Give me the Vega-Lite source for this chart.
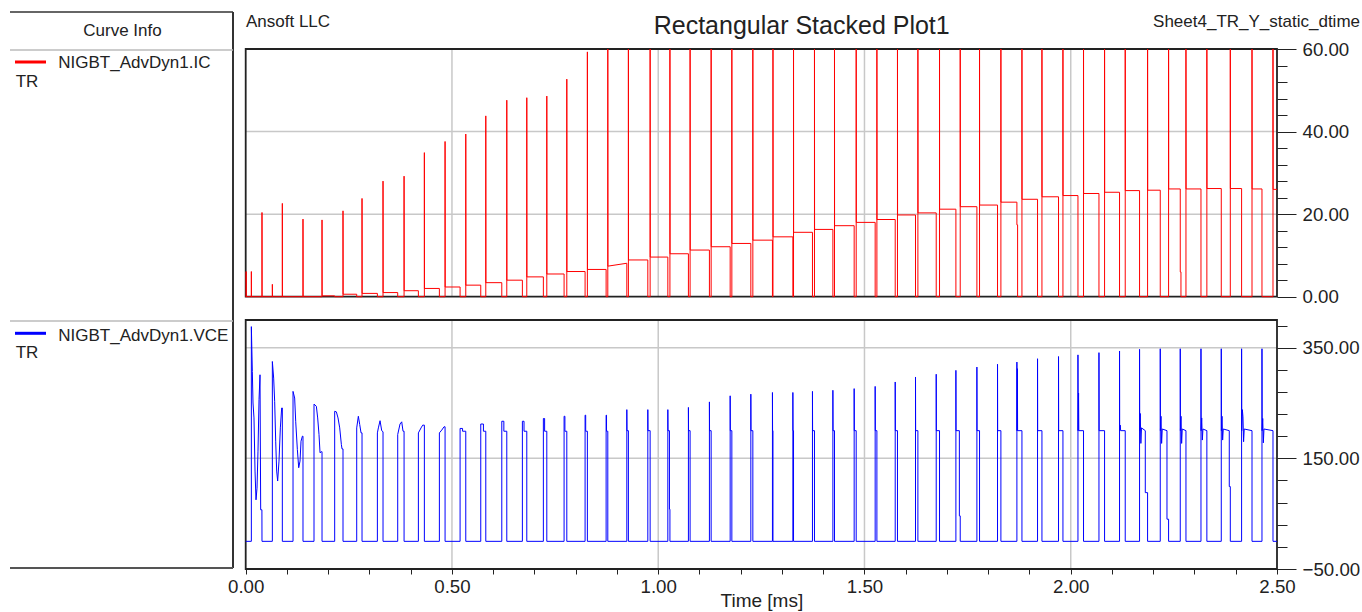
{
  "$schema": "https://vega.github.io/schema/vega-lite/v6.json",
  "width": 1267,
  "height": 557,
  "autosize": {"type": "none"},
  "padding": {"left": 10, "top": 12, "right": 85, "bottom": 43},
  "background": "white",
  "config": {
    "view": {"stroke": null},
    "axis": {
      "labelFont": "Liberation Sans", "labelFontSize": 18.7, "labelColor": "#222",
      "titleFont": "Liberation Sans", "titleFontSize": 19, "titleFontWeight": "normal", "titleColor": "#222",
      "tickColor": "#222", "tickWidth": 1, "domain": false, "grid": false,
      "labelOverlap": false, "labelFlush": false
    },
    "text": {"font": "Liberation Sans", "fontSize": 17, "color": "#222", "baseline": "alphabetic", "align": "left"}
  },
  "datasets": {
    "header": [{"company": "Ansoft LLC", "title": "Rectangular Stacked Plot1", "design": "Sheet4_TR_Y_static_dtime", "heading": "Curve Info"}],
    "legend": [{"series": "NIGBT_AdvDyn1.IC", "solution": "TR"}, {"series": "NIGBT_AdvDyn1.VCE", "solution": "TR"}],
    "tgrid": [{"t": 0.5}, {"t": 1}, {"t": 1.5}, {"t": 2}],
    "icgrid": [{"ic": 20}, {"ic": 40}],
    "vcegrid": [{"vce": 150}, {"vce": 350}],
    "ic": [
      {"t":0,"ic":0},{"t":0.001,"ic":0},{"t":0.001,"ic":6.1},{"t":0.0013,"ic":0},
      {"t":0.0137,"ic":0},{"t":0.0137,"ic":6.1},{"t":0.0139,"ic":0},
      {"t":0.0395,"ic":0},{"t":0.0395,"ic":20.4},{"t":0.0397,"ic":0},
      {"t":0.0646,"ic":0},{"t":0.0646,"ic":3},{"t":0.0648,"ic":0},
      {"t":0.0888,"ic":0},{"t":0.0888,"ic":22.6},{"t":0.089,"ic":0},
      {"t":0.1389,"ic":0},{"t":0.1389,"ic":18.8},{"t":0.1391,"ic":0},
      {"t":0.185,"ic":0},{"t":0.185,"ic":18.6},{"t":0.1852,"ic":0.2},{"t":0.2157,"ic":0.2},{"t":0.2157,"ic":0},
      {"t":0.2359,"ic":0},{"t":0.2359,"ic":20.8},{"t":0.2361,"ic":0.6},{"t":0.2691,"ic":0.6},{"t":0.2691,"ic":0},
      {"t":0.282,"ic":0},{"t":0.282,"ic":23.8},{"t":0.2822,"ic":0.8},{"t":0.3192,"ic":0.8},{"t":0.3192,"ic":0},
      {"t":0.3329,"ic":0},{"t":0.3329,"ic":28},{"t":0.3331,"ic":1},{"t":0.3685,"ic":1},{"t":0.3685,"ic":0},
      {"t":0.3839,"ic":0},{"t":0.3839,"ic":29.2},{"t":0.3841,"ic":1.45},{"t":0.4186,"ic":1.45},{"t":0.4186,"ic":0},
      {"t":0.4331,"ic":0},{"t":0.4331,"ic":34.9},{"t":0.4333,"ic":2},{"t":0.4695,"ic":2},{"t":0.4695,"ic":0},
      {"t":0.4833,"ic":0},{"t":0.4833,"ic":37.6},{"t":0.4835,"ic":2.35},{"t":0.5197,"ic":2.35},{"t":0.5197,"ic":0},
      {"t":0.5335,"ic":0},{"t":0.5335,"ic":39.4},{"t":0.5337,"ic":2.8},{"t":0.5698,"ic":2.8},{"t":0.5698,"ic":0},
      {"t":0.582,"ic":0},{"t":0.582,"ic":43.8},{"t":0.5822,"ic":3.4},{"t":0.6208,"ic":3.4},{"t":0.6208,"ic":0},
      {"t":0.6329,"ic":0},{"t":0.6329,"ic":47.6},{"t":0.6331,"ic":4},{"t":0.6707,"ic":4},{"t":0.6707,"ic":0},
      {"t":0.6814,"ic":0},{"t":0.6814,"ic":48.2},{"t":0.6816,"ic":4.8},{"t":0.7216,"ic":4.8},{"t":0.7216,"ic":0},
      {"t":0.7299,"ic":0},{"t":0.7299,"ic":48.6},{"t":0.7301,"ic":5.5},{"t":0.7718,"ic":5.5},{"t":0.7718,"ic":0},
      {"t":0.7784,"ic":0},{"t":0.7784,"ic":52.7},{"t":0.7786,"ic":6.1},{"t":0.8227,"ic":6.1},{"t":0.8227,"ic":0},
      {"t":0.8283,"ic":0},{"t":0.8283,"ic":59.3},{"t":0.8285,"ic":6.6},{"t":0.8737,"ic":6.6},{"t":0.8737,"ic":0},
      {"t":0.8778,"ic":0},{"t":0.8778,"ic":68},{"t":0.878,"ic":7.4},{"t":0.9239,"ic":8.1},{"t":0.9239,"ic":0},
      {"t":0.9277,"ic":0},{"t":0.9277,"ic":68},{"t":0.9279,"ic":8.9},{"t":0.9748,"ic":8.9},{"t":0.9748,"ic":0},
      {"t":0.9804,"ic":0},{"t":0.9804,"ic":68},{"t":0.9806,"ic":9.6},{"t":1.0233,"ic":9.6},{"t":1.0233,"ic":0},
      {"t":1.0284,"ic":0},{"t":1.0284,"ic":68},{"t":1.0286,"ic":10.4},{"t":1.0732,"ic":10.4},{"t":1.0732,"ic":0},
      {"t":1.0773,"ic":0},{"t":1.0773,"ic":68},{"t":1.0775,"ic":11.3},{"t":1.1241,"ic":11.3},{"t":1.1241,"ic":0},
      {"t":1.1283,"ic":0},{"t":1.1283,"ic":68},{"t":1.1285,"ic":12.1},{"t":1.1744,"ic":12.1},{"t":1.1744,"ic":0},
      {"t":1.1785,"ic":0},{"t":1.1785,"ic":68},{"t":1.1787,"ic":12.9},{"t":1.2245,"ic":12.9},{"t":1.2245,"ic":0},
      {"t":1.2294,"ic":0},{"t":1.2294,"ic":68},{"t":1.2296,"ic":13.7},{"t":1.2769,"ic":13.7},{"t":1.2769,"ic":0},
      {"t":1.2782,"ic":0},{"t":1.2782,"ic":68},{"t":1.2784,"ic":14.5},{"t":1.3264,"ic":14.5},{"t":1.3264,"ic":0},
      {"t":1.328,"ic":0},{"t":1.328,"ic":68},{"t":1.3282,"ic":15.6},{"t":1.3739,"ic":15.6},{"t":1.3739,"ic":0},
      {"t":1.3788,"ic":0},{"t":1.3788,"ic":68},{"t":1.379,"ic":16.3},{"t":1.4234,"ic":16.3},{"t":1.4234,"ic":0},
      {"t":1.4273,"ic":0},{"t":1.4273,"ic":68},{"t":1.4275,"ic":17.2},{"t":1.475,"ic":17.2},{"t":1.475,"ic":0},
      {"t":1.4799,"ic":0},{"t":1.4799,"ic":68},{"t":1.4801,"ic":18},{"t":1.5259,"ic":18},{"t":1.5259,"ic":0},
      {"t":1.5301,"ic":0},{"t":1.5301,"ic":68},{"t":1.5303,"ic":18.7},{"t":1.5745,"ic":18.7},{"t":1.5745,"ic":0},
      {"t":1.58,"ic":0},{"t":1.58,"ic":68},{"t":1.5802,"ic":19.8},{"t":1.6237,"ic":19.8},{"t":1.6237,"ic":0},
      {"t":1.6295,"ic":0},{"t":1.6295,"ic":68},{"t":1.6297,"ic":20.3},{"t":1.6739,"ic":20.3},{"t":1.6739,"ic":0},
      {"t":1.6819,"ic":0},{"t":1.6819,"ic":68},{"t":1.6821,"ic":21.2},{"t":1.7216,"ic":21.2},{"t":1.7216,"ic":0},
      {"t":1.7321,"ic":0},{"t":1.7321,"ic":68},{"t":1.7323,"ic":21.8},{"t":1.7725,"ic":21.8},{"t":1.7725,"ic":0},
      {"t":1.7789,"ic":0},{"t":1.7789,"ic":68},{"t":1.7791,"ic":22.2},{"t":1.8225,"ic":22.2},{"t":1.8225,"ic":0},
      {"t":1.8307,"ic":0},{"t":1.8307,"ic":68},{"t":1.8309,"ic":22.9},{"t":1.8695,"ic":22.9},{"t":1.8695,"ic":17.4},{"t":1.8712,"ic":17.4},{"t":1.8712,"ic":0},
      {"t":1.8817,"ic":0},{"t":1.8817,"ic":68},{"t":1.8819,"ic":23.6},{"t":1.9195,"ic":23.6},{"t":1.9195,"ic":0},
      {"t":1.9302,"ic":0},{"t":1.9302,"ic":68},{"t":1.9304,"ic":24.2},{"t":1.9704,"ic":24.2},{"t":1.9704,"ic":0},
      {"t":1.9811,"ic":0},{"t":1.9811,"ic":68},{"t":1.9813,"ic":24.5},{"t":2.0175,"ic":24.5},{"t":2.0175,"ic":0},
      {"t":2.031,"ic":0},{"t":2.031,"ic":68},{"t":2.0312,"ic":25},{"t":2.0684,"ic":25},{"t":2.0684,"ic":0},
      {"t":2.082,"ic":0},{"t":2.082,"ic":68},{"t":2.0822,"ic":25.3},{"t":2.1183,"ic":25.3},{"t":2.1183,"ic":0},
      {"t":2.1321,"ic":0},{"t":2.1321,"ic":68},{"t":2.1323,"ic":25.7},{"t":2.1668,"ic":25.7},{"t":2.1668,"ic":0},
      {"t":2.1863,"ic":0},{"t":2.1863,"ic":68},{"t":2.1865,"ic":25.8},{"t":2.217,"ic":25.8},{"t":2.217,"ic":0},
      {"t":2.2372,"ic":0},{"t":2.2372,"ic":68},{"t":2.2374,"ic":26.1},{"t":2.2655,"ic":26.1},{"t":2.2655,"ic":6},{"t":2.2672,"ic":6},{"t":2.2672,"ic":0},
      {"t":2.2793,"ic":0},{"t":2.2793,"ic":68},{"t":2.2795,"ic":26.1},{"t":2.3157,"ic":26.1},{"t":2.3157,"ic":0},
      {"t":2.33,"ic":0},{"t":2.33,"ic":68},{"t":2.3302,"ic":26.2},{"t":2.3649,"ic":26.2},{"t":2.3649,"ic":0},
      {"t":2.3868,"ic":0},{"t":2.3868,"ic":68},{"t":2.387,"ic":26.2},{"t":2.4142,"ic":26.2},{"t":2.4142,"ic":0},
      {"t":2.4394,"ic":0},{"t":2.4394,"ic":68},{"t":2.4396,"ic":26.1},{"t":2.4636,"ic":26.1},{"t":2.4636,"ic":0},
      {"t":2.4903,"ic":0},{"t":2.4903,"ic":68},{"t":2.4905,"ic":26},{"t":2.5,"ic":26}
    ],
    "vce": [
      {"t":0,"vce":0},
      {"t":0.0137,"vce":0},{"t":0.0137,"vce":388},{"t":0.0161,"vce":307},{"t":0.0177,"vce":250},{"t":0.0201,"vce":223},{"t":0.0226,"vce":127},{"t":0.025,"vce":75},{"t":0.0274,"vce":96},{"t":0.0298,"vce":163},{"t":0.0323,"vce":256},{"t":0.0347,"vce":301},{"t":0.0363,"vce":57},{"t":0.0393,"vce":57},{"t":0.0395,"vce":0},
      {"t":0.0646,"vce":0},{"t":0.0646,"vce":325},{"t":0.0678,"vce":295},{"t":0.0702,"vce":253},{"t":0.0727,"vce":181},{"t":0.0751,"vce":127},{"t":0.0775,"vce":109},{"t":0.0807,"vce":145},{"t":0.084,"vce":205},{"t":0.0872,"vce":241},{"t":0.0888,"vce":241},{"t":0.0888,"vce":0},
      {"t":0.1147,"vce":0},{"t":0.1147,"vce":271},{"t":0.1187,"vce":259},{"t":0.1212,"vce":217},{"t":0.1252,"vce":166},{"t":0.1285,"vce":133},{"t":0.1317,"vce":145},{"t":0.1341,"vce":181},{"t":0.1374,"vce":190},{"t":0.1389,"vce":190},{"t":0.1389,"vce":0},
      {"t":0.1656,"vce":0},{"t":0.1656,"vce":248},{"t":0.1713,"vce":244},{"t":0.1745,"vce":223},{"t":0.1777,"vce":193},{"t":0.1802,"vce":160},{"t":0.1834,"vce":162},{"t":0.185,"vce":162},{"t":0.185,"vce":0},
      {"t":0.2157,"vce":0},{"t":0.2157,"vce":235},{"t":0.2198,"vce":234},{"t":0.2238,"vce":223},{"t":0.2279,"vce":205},{"t":0.2319,"vce":175},{"t":0.2335,"vce":167},{"t":0.2359,"vce":167},{"t":0.2359,"vce":0},
      {"t":0.2691,"vce":0},{"t":0.2691,"vce":205},{"t":0.2731,"vce":226},{"t":0.2764,"vce":211},{"t":0.2796,"vce":196},{"t":0.282,"vce":196},{"t":0.282,"vce":0},
      {"t":0.3192,"vce":0},{"t":0.3192,"vce":196},{"t":0.3216,"vce":205},{"t":0.3257,"vce":218},{"t":0.3297,"vce":200},{"t":0.3329,"vce":198},{"t":0.3329,"vce":0},
      {"t":0.3685,"vce":0},{"t":0.3685,"vce":193},{"t":0.3741,"vce":212},{"t":0.3782,"vce":216},{"t":0.3814,"vce":199},{"t":0.3839,"vce":199},{"t":0.3839,"vce":0},
      {"t":0.4186,"vce":0},{"t":0.4186,"vce":196},{"t":0.4251,"vce":205},{"t":0.4291,"vce":210},{"t":0.4331,"vce":210},{"t":0.4331,"vce":0},
      {"t":0.4695,"vce":0},{"t":0.4695,"vce":196},{"t":0.4752,"vce":201},{"t":0.4808,"vce":207},{"t":0.4833,"vce":207},{"t":0.4833,"vce":0},
      {"t":0.5197,"vce":0},{"t":0.5197,"vce":204},{"t":0.5257,"vce":204},{"t":0.5257,"vce":199},{"t":0.5335,"vce":199},{"t":0.5335,"vce":0},
      {"t":0.5698,"vce":0},{"t":0.5698,"vce":212},{"t":0.5763,"vce":212},{"t":0.5763,"vce":199},{"t":0.582,"vce":199},{"t":0.582,"vce":0},
      {"t":0.6208,"vce":0},{"t":0.6208,"vce":217},{"t":0.6258,"vce":217},{"t":0.6258,"vce":199},{"t":0.6329,"vce":199},{"t":0.6329,"vce":0},
      {"t":0.6707,"vce":0},{"t":0.6707,"vce":217},{"t":0.6747,"vce":217},{"t":0.6747,"vce":199},{"t":0.6814,"vce":199},{"t":0.6814,"vce":0},
      {"t":0.7216,"vce":0},{"t":0.7216,"vce":222},{"t":0.7246,"vce":222},{"t":0.7246,"vce":199},{"t":0.7299,"vce":199},{"t":0.7299,"vce":0},
      {"t":0.7718,"vce":0},{"t":0.7718,"vce":226},{"t":0.7738,"vce":226},{"t":0.7738,"vce":199},{"t":0.7784,"vce":199},{"t":0.7784,"vce":0},
      {"t":0.8227,"vce":0},{"t":0.8227,"vce":228},{"t":0.8242,"vce":228},{"t":0.8242,"vce":199},{"t":0.8283,"vce":199},{"t":0.8283,"vce":0},
      {"t":0.8737,"vce":0},{"t":0.8737,"vce":228},{"t":0.8747,"vce":228},{"t":0.8747,"vce":199},{"t":0.8778,"vce":199},{"t":0.8778,"vce":0},
      {"t":0.9239,"vce":0},{"t":0.9239,"vce":238},{"t":0.9242,"vce":200},{"t":0.9277,"vce":200},{"t":0.9277,"vce":0},
      {"t":0.9748,"vce":0},{"t":0.9748,"vce":238},{"t":0.9751,"vce":200},{"t":0.9804,"vce":200},{"t":0.9804,"vce":0},
      {"t":1.0233,"vce":0},{"t":1.0233,"vce":238},{"t":1.0236,"vce":200},{"t":1.0272,"vce":200},{"t":1.0272,"vce":58},{"t":1.0284,"vce":58},{"t":1.0284,"vce":0},
      {"t":1.0732,"vce":0},{"t":1.0732,"vce":242},{"t":1.0735,"vce":200},{"t":1.0773,"vce":200},{"t":1.0773,"vce":0},
      {"t":1.1241,"vce":0},{"t":1.1241,"vce":252},{"t":1.1244,"vce":200},{"t":1.1283,"vce":200},{"t":1.1283,"vce":0},
      {"t":1.1744,"vce":0},{"t":1.1744,"vce":263},{"t":1.1747,"vce":200},{"t":1.1785,"vce":200},{"t":1.1785,"vce":0},
      {"t":1.2245,"vce":0},{"t":1.2245,"vce":266},{"t":1.2248,"vce":200},{"t":1.2294,"vce":200},{"t":1.2294,"vce":0},
      {"t":1.2769,"vce":0},{"t":1.2769,"vce":269},{"t":1.2772,"vce":200},{"t":1.2782,"vce":200},{"t":1.2782,"vce":0},
      {"t":1.3264,"vce":0},{"t":1.3264,"vce":269},{"t":1.3267,"vce":200},{"t":1.328,"vce":200},{"t":1.328,"vce":0},
      {"t":1.3739,"vce":0},{"t":1.3739,"vce":271},{"t":1.3742,"vce":200},{"t":1.3788,"vce":200},{"t":1.3788,"vce":0},
      {"t":1.4234,"vce":0},{"t":1.4234,"vce":273},{"t":1.4237,"vce":200},{"t":1.4273,"vce":200},{"t":1.4273,"vce":0},
      {"t":1.475,"vce":0},{"t":1.475,"vce":276},{"t":1.4753,"vce":200},{"t":1.4799,"vce":200},{"t":1.4799,"vce":0},
      {"t":1.5259,"vce":0},{"t":1.5259,"vce":280},{"t":1.5262,"vce":200},{"t":1.5301,"vce":200},{"t":1.5301,"vce":0},
      {"t":1.5745,"vce":0},{"t":1.5745,"vce":288},{"t":1.5748,"vce":200},{"t":1.58,"vce":200},{"t":1.58,"vce":0},
      {"t":1.6237,"vce":0},{"t":1.6237,"vce":297},{"t":1.624,"vce":200},{"t":1.6295,"vce":200},{"t":1.6295,"vce":0},
      {"t":1.6739,"vce":0},{"t":1.6739,"vce":302},{"t":1.6742,"vce":200},{"t":1.6819,"vce":200},{"t":1.6819,"vce":0},
      {"t":1.7216,"vce":0},{"t":1.7216,"vce":309},{"t":1.7219,"vce":200},{"t":1.73,"vce":200},{"t":1.73,"vce":46},{"t":1.7321,"vce":46},{"t":1.7321,"vce":0},
      {"t":1.7725,"vce":0},{"t":1.7725,"vce":315},{"t":1.7728,"vce":200},{"t":1.7789,"vce":200},{"t":1.7789,"vce":0},
      {"t":1.8225,"vce":0},{"t":1.8225,"vce":320},{"t":1.8228,"vce":200},{"t":1.8307,"vce":200},{"t":1.8307,"vce":0},
      {"t":1.8695,"vce":0},{"t":1.8695,"vce":324},{"t":1.8698,"vce":200},{"t":1.8707,"vce":312},{"t":1.8712,"vce":200},{"t":1.8817,"vce":200},{"t":1.8817,"vce":0},
      {"t":1.9195,"vce":0},{"t":1.9195,"vce":330},{"t":1.9198,"vce":200},{"t":1.9302,"vce":200},{"t":1.9302,"vce":0},
      {"t":1.9704,"vce":0},{"t":1.9704,"vce":334},{"t":1.9707,"vce":200},{"t":1.9811,"vce":200},{"t":1.9811,"vce":0},
      {"t":2.0175,"vce":0},{"t":2.0175,"vce":337},{"t":2.0178,"vce":200},{"t":2.019,"vce":268},{"t":2.0196,"vce":200},{"t":2.031,"vce":200},{"t":2.031,"vce":0},
      {"t":2.0684,"vce":0},{"t":2.0684,"vce":341},{"t":2.0687,"vce":200},{"t":2.082,"vce":200},{"t":2.082,"vce":0},
      {"t":2.1183,"vce":0},{"t":2.1183,"vce":344},{"t":2.1186,"vce":200},{"t":2.12,"vce":210},{"t":2.121,"vce":200},{"t":2.1321,"vce":200},{"t":2.1321,"vce":0},
      {"t":2.1668,"vce":0},{"t":2.1668,"vce":347},{"t":2.1671,"vce":200},{"t":2.1685,"vce":231},{"t":2.17,"vce":177},{"t":2.1715,"vce":205},{"t":2.1807,"vce":200},{"t":2.1807,"vce":88},{"t":2.1863,"vce":88},{"t":2.1863,"vce":0},
      {"t":2.217,"vce":0},{"t":2.217,"vce":348},{"t":2.2173,"vce":200},{"t":2.2188,"vce":226},{"t":2.2203,"vce":177},{"t":2.2218,"vce":203},{"t":2.2333,"vce":200},{"t":2.2333,"vce":40},{"t":2.2372,"vce":40},{"t":2.2372,"vce":0},
      {"t":2.2655,"vce":0},{"t":2.2655,"vce":348},{"t":2.2658,"vce":200},{"t":2.2673,"vce":226},{"t":2.2688,"vce":177},{"t":2.2703,"vce":203},{"t":2.2793,"vce":200},{"t":2.2793,"vce":0},
      {"t":2.3157,"vce":0},{"t":2.3157,"vce":348},{"t":2.316,"vce":200},{"t":2.3175,"vce":223},{"t":2.319,"vce":183},{"t":2.3205,"vce":203},{"t":2.33,"vce":200},{"t":2.33,"vce":0},
      {"t":2.3649,"vce":0},{"t":2.3649,"vce":348},{"t":2.3652,"vce":200},{"t":2.3667,"vce":226},{"t":2.3682,"vce":183},{"t":2.3697,"vce":203},{"t":2.3843,"vce":200},{"t":2.3843,"vce":99},{"t":2.3868,"vce":99},{"t":2.3868,"vce":0},
      {"t":2.4142,"vce":0},{"t":2.4142,"vce":348},{"t":2.4145,"vce":200},{"t":2.416,"vce":238},{"t":2.4175,"vce":225},{"t":2.419,"vce":180},{"t":2.4205,"vce":203},{"t":2.4394,"vce":200},{"t":2.4394,"vce":0},
      {"t":2.4636,"vce":0},{"t":2.4636,"vce":348},{"t":2.4639,"vce":200},{"t":2.4654,"vce":222},{"t":2.4669,"vce":178},{"t":2.4684,"vce":203},{"t":2.4903,"vce":200},{"t":2.4903,"vce":0},
      {"t":2.5,"vce":0}
    ]
  },
  "layer": [
    {
      "layer": [
        {
          "data": {"name": "tgrid"},
          "mark": {"type": "rule", "color": "#c8c8c8", "strokeWidth": 1.5},
          "encoding": {
            "x": {"field": "t", "type": "quantitative", "scale": {"domain": [0, 2.5], "range": [235.7, 1267], "nice": false, "zero": false}, "axis": null},
            "y": {"datum": 0, "type": "quantitative", "scale": {"domain": [0, 60], "range": [284.7, 37], "nice": false, "zero": false, "clamp": true}, "axis": null},
            "y2": {"datum": 60}
          }
        },
        {
          "data": {"name": "icgrid"},
          "mark": {"type": "rule", "color": "#c8c8c8", "strokeWidth": 1.5},
          "encoding": {
            "y": {"field": "ic", "type": "quantitative", "scale": {"domain": [0, 60], "range": [284.7, 37], "nice": false, "zero": false, "clamp": true},
              "axis": {"orient": "right", "title": null, "values": [4, 8, 12, 16, 24, 28, 32, 36, 44, 48, 52, 56], "tickSize": 10, "labels": false}
            },
            "x": {"datum": 0, "type": "quantitative", "scale": {"domain": [0, 2.5], "range": [235.7, 1267], "nice": false, "zero": false}, "axis": null},
            "x2": {"datum": 2.5}
          }
        },
        {
          "data": {"name": "legend"},
          "transform": [{"filter": "datum.series === 'NIGBT_AdvDyn1.IC'"}],
          "mark": {"type": "rect", "fillOpacity": 0, "stroke": "#222", "strokeWidth": 1.8},
          "encoding": {
            "x": {"datum": 0, "type": "quantitative", "scale": {"domain": [0, 2.5], "range": [235.7, 1267], "nice": false, "zero": false}, "axis": null},
            "x2": {"datum": 2.5},
            "y": {"datum": 0, "type": "quantitative", "scale": {"domain": [0, 60], "range": [284.7, 37], "nice": false, "zero": false, "clamp": true}, "axis": null},
            "y2": {"datum": 60}
          }
        },
        {
          "data": {"name": "ic"},
          "mark": {"type": "line", "color": "#ff0000", "strokeWidth": 1},
          "encoding": {
            "x": {"field": "t", "type": "quantitative", "scale": {"domain": [0, 2.5], "range": [235.7, 1267], "nice": false, "zero": false}, "axis": null},
            "y": {"field": "ic", "type": "quantitative", "scale": {"domain": [0, 60], "range": [284.7, 37], "nice": false, "zero": false, "clamp": true},
              "axis": {
                "orient": "right", "title": null,
                "values": [0, 20, 40, 60],
                "tickSize": 19,
                "format": ".2f",
                "labelOverlap": false,
                "labelBound": false,
                "labelPadding": 6
              }
            },
            "order": {"value": null}
          }
        }
      ],
      "resolve": {"axis": {"y": "independent"}}
    },
    {
      "layer": [
        {
          "data": {"name": "tgrid"},
          "mark": {"type": "rule", "color": "#c8c8c8", "strokeWidth": 1.5},
          "encoding": {
            "x": {"field": "t", "type": "quantitative", "scale": {"domain": [0, 2.5], "range": [235.7, 1267], "nice": false, "zero": false}},
            "y": {"datum": -50, "type": "quantitative", "scale": {"domain": [-50, 400], "range": [557, 308], "nice": false, "zero": false}},
            "y2": {"datum": 400}
          }
        },
        {
          "data": {"name": "vcegrid"},
          "mark": {"type": "rule", "color": "#c8c8c8", "strokeWidth": 1.5},
          "encoding": {
            "y": {"field": "vce", "type": "quantitative", "scale": {"domain": [-50, 400], "range": [557, 308], "nice": false, "zero": false}},
            "x": {"datum": 0, "type": "quantitative", "scale": {"domain": [0, 2.5], "range": [235.7, 1267], "nice": false, "zero": false}},
            "x2": {"datum": 2.5}
          }
        },
        {
          "data": {"name": "legend"},
          "transform": [{"filter": "datum.series === 'NIGBT_AdvDyn1.VCE'"}],
          "mark": {"type": "rect", "fillOpacity": 0, "stroke": "#222", "strokeWidth": 1.8},
          "encoding": {
            "x": {"datum": 0, "type": "quantitative", "scale": {"domain": [0, 2.5], "range": [235.7, 1267], "nice": false, "zero": false}},
            "x2": {"datum": 2.5},
            "y": {"datum": -50, "type": "quantitative", "scale": {"domain": [-50, 400], "range": [557, 308], "nice": false, "zero": false}},
            "y2": {"datum": 400}
          }
        },
        {
          "data": {"name": "vce"},
          "mark": {"type": "line", "color": "#0000ff", "strokeWidth": 1},
          "encoding": {
            "x": {"field": "t", "type": "quantitative", "scale": {"domain": [0, 2.5], "range": [235.7, 1267], "nice": false, "zero": false},
              "axis": {
                "orient": "bottom", "title": "Time [ms]",
                "values": [0, 0.1, 0.2, 0.3, 0.4, 0.5, 0.6, 0.7, 0.8, 0.9, 1, 1.1, 1.2, 1.3, 1.4, 1.5, 1.6, 1.7, 1.8, 1.9, 2, 2.1, 2.2, 2.3, 2.4, 2.5],
                "tickSize": 5,
                "labelExpr": "abs(datum.value * 2 - round(datum.value * 2)) < 0.001 ? format(datum.value, '.2f') : ''",
                "labelOverlap": false,
                "labelPadding": 3,
                "titlePadding": -4
              }
            },
            "y": {"field": "vce", "type": "quantitative", "scale": {"domain": [-50, 400], "range": [557, 308], "nice": false, "zero": false},
              "axis": {
                "orient": "right", "title": null,
                "values": [-50, -10, 30, 70, 110, 150, 190, 230, 270, 310, 350, 390],
                "tickSize": {"condition": {"test": "abs((datum.value + 50) % 200) < 0.001", "value": 19}, "value": 10},
                "labelExpr": "abs((datum.value + 50) % 200) < 0.001 ? format(datum.value, '.2f') : ''",
                "labelOverlap": false,
                "labelBound": false,
                "labelPadding": 6
              }
            },
            "order": {"value": null}
          }
        }
      ]
    },
    {
      "layer": [
        {
          "data": {"name": "header"},
          "mark": {"type": "rule", "color": "#333", "strokeWidth": 1.5},
          "encoding": {
            "x": {"datum": 0, "type": "quantitative", "scale": {"domain": [0, 1352], "range": [0, 1352], "nice": false, "zero": false}, "axis": null},
            "x2": {"datum": 223},
            "y": {"datum": 0, "type": "quantitative", "scale": {"domain": [0, 600], "range": [0, 600], "nice": false, "zero": false}, "axis": null}
          }
        },
        {
          "data": {"name": "header"},
          "mark": {"type": "rule", "color": "#333", "strokeWidth": 2},
          "encoding": {
            "x": {"datum": 223, "type": "quantitative", "scale": {"domain": [0, 1352], "range": [0, 1352], "nice": false, "zero": false}, "axis": null},
            "y": {"datum": 0, "type": "quantitative", "scale": {"domain": [0, 600], "range": [0, 600], "nice": false, "zero": false}, "axis": null},
            "y2": {"datum": 556}
          }
        },
        {
          "data": {"name": "header"},
          "mark": {"type": "rule", "color": "#555", "strokeWidth": 2},
          "encoding": {
            "x": {"datum": 0, "type": "quantitative", "scale": {"domain": [0, 1352], "range": [0, 1352], "nice": false, "zero": false}, "axis": null},
            "x2": {"datum": 223},
            "y": {"datum": 556, "type": "quantitative", "scale": {"domain": [0, 600], "range": [0, 600], "nice": false, "zero": false}, "axis": null}
          }
        },
        {
          "data": {"name": "header"},
          "mark": {"type": "rule", "color": "#bbbbbb", "strokeWidth": 1.5},
          "encoding": {
            "x": {"datum": 0, "type": "quantitative", "scale": {"domain": [0, 1352], "range": [0, 1352], "nice": false, "zero": false}, "axis": null},
            "x2": {"datum": 223},
            "y": {"datum": 38, "type": "quantitative", "scale": {"domain": [0, 600], "range": [0, 600], "nice": false, "zero": false}, "axis": null}
          }
        },
        {
          "data": {"name": "header"},
          "mark": {"type": "rule", "color": "#bbbbbb", "strokeWidth": 1.5},
          "encoding": {
            "x": {"datum": 0, "type": "quantitative", "scale": {"domain": [0, 1352], "range": [0, 1352], "nice": false, "zero": false}, "axis": null},
            "x2": {"datum": 223},
            "y": {"datum": 309, "type": "quantitative", "scale": {"domain": [0, 600], "range": [0, 600], "nice": false, "zero": false}, "axis": null}
          }
        },
        {
          "data": {"name": "legend"},
          "transform": [{"filter": "datum.series === 'NIGBT_AdvDyn1.IC'"}],
          "mark": {"type": "rule", "color": "#ff0000", "strokeWidth": 3},
          "encoding": {
            "x": {"datum": 5, "type": "quantitative", "scale": {"domain": [0, 1352], "range": [0, 1352], "nice": false, "zero": false}, "axis": null},
            "x2": {"datum": 36},
            "y": {"datum": 50, "type": "quantitative", "scale": {"domain": [0, 600], "range": [0, 600], "nice": false, "zero": false}, "axis": null}
          }
        },
        {
          "data": {"name": "legend"},
          "transform": [{"filter": "datum.series === 'NIGBT_AdvDyn1.VCE'"}],
          "mark": {"type": "rule", "color": "#0000ff", "strokeWidth": 3},
          "encoding": {
            "x": {"datum": 5, "type": "quantitative", "scale": {"domain": [0, 1352], "range": [0, 1352], "nice": false, "zero": false}, "axis": null},
            "x2": {"datum": 36},
            "y": {"datum": 321.3, "type": "quantitative", "scale": {"domain": [0, 600], "range": [0, 600], "nice": false, "zero": false}, "axis": null}
          }
        },
        {
          "data": {"name": "header"},
          "mark": {"type": "text", "align": "center"},
          "encoding": {
            "text": {"field": "heading"},
            "x": {"datum": 112.5, "type": "quantitative", "scale": {"domain": [0, 1352], "range": [0, 1352], "nice": false, "zero": false}, "axis": null},
            "y": {"datum": 24, "type": "quantitative", "scale": {"domain": [0, 600], "range": [0, 600], "nice": false, "zero": false}, "axis": null}
          }
        },
        {
          "data": {"name": "legend"},
          "transform": [{"filter": "datum.series === 'NIGBT_AdvDyn1.IC'"}],
          "mark": {"type": "text"},
          "encoding": {
            "text": {"field": "series"},
            "x": {"datum": 48.3, "type": "quantitative", "scale": {"domain": [0, 1352], "range": [0, 1352], "nice": false, "zero": false}, "axis": null},
            "y": {"datum": 56.3, "type": "quantitative", "scale": {"domain": [0, 600], "range": [0, 600], "nice": false, "zero": false}, "axis": null}
          }
        },
        {
          "data": {"name": "legend"},
          "transform": [{"filter": "datum.series === 'NIGBT_AdvDyn1.IC'"}],
          "mark": {"type": "text"},
          "encoding": {
            "text": {"field": "solution"},
            "x": {"datum": 5.7, "type": "quantitative", "scale": {"domain": [0, 1352], "range": [0, 1352], "nice": false, "zero": false}, "axis": null},
            "y": {"datum": 74.7, "type": "quantitative", "scale": {"domain": [0, 600], "range": [0, 600], "nice": false, "zero": false}, "axis": null}
          }
        },
        {
          "data": {"name": "legend"},
          "transform": [{"filter": "datum.series === 'NIGBT_AdvDyn1.VCE'"}],
          "mark": {"type": "text"},
          "encoding": {
            "text": {"field": "series"},
            "x": {"datum": 48.3, "type": "quantitative", "scale": {"domain": [0, 1352], "range": [0, 1352], "nice": false, "zero": false}, "axis": null},
            "y": {"datum": 328.7, "type": "quantitative", "scale": {"domain": [0, 600], "range": [0, 600], "nice": false, "zero": false}, "axis": null}
          }
        },
        {
          "data": {"name": "legend"},
          "transform": [{"filter": "datum.series === 'NIGBT_AdvDyn1.VCE'"}],
          "mark": {"type": "text"},
          "encoding": {
            "text": {"field": "solution"},
            "x": {"datum": 5.7, "type": "quantitative", "scale": {"domain": [0, 1352], "range": [0, 1352], "nice": false, "zero": false}, "axis": null},
            "y": {"datum": 346.3, "type": "quantitative", "scale": {"domain": [0, 600], "range": [0, 600], "nice": false, "zero": false}, "axis": null}
          }
        },
        {
          "data": {"name": "header"},
          "mark": {"type": "text"},
          "encoding": {
            "text": {"field": "company"},
            "x": {"datum": 236, "type": "quantitative", "scale": {"domain": [0, 1352], "range": [0, 1352], "nice": false, "zero": false}, "axis": null},
            "y": {"datum": 14.7, "type": "quantitative", "scale": {"domain": [0, 600], "range": [0, 600], "nice": false, "zero": false}, "axis": null}
          }
        },
        {
          "data": {"name": "header"},
          "mark": {"type": "text", "align": "center", "fontSize": 25},
          "encoding": {
            "text": {"field": "title"},
            "x": {"datum": 791.7, "type": "quantitative", "scale": {"domain": [0, 1352], "range": [0, 1352], "nice": false, "zero": false}, "axis": null},
            "y": {"datum": 22.3, "type": "quantitative", "scale": {"domain": [0, 600], "range": [0, 600], "nice": false, "zero": false}, "axis": null}
          }
        },
        {
          "data": {"name": "header"},
          "mark": {"type": "text", "align": "right"},
          "encoding": {
            "text": {"field": "design"},
            "x": {"datum": 1350, "type": "quantitative", "scale": {"domain": [0, 1352], "range": [0, 1352], "nice": false, "zero": false}, "axis": null},
            "y": {"datum": 14.7, "type": "quantitative", "scale": {"domain": [0, 600], "range": [0, 600], "nice": false, "zero": false}, "axis": null}
          }
        }
      ]
    }
  ],
  "resolve": {"scale": {"x": "independent", "y": "independent"}, "axis": {"x": "independent", "y": "independent"}}
}
